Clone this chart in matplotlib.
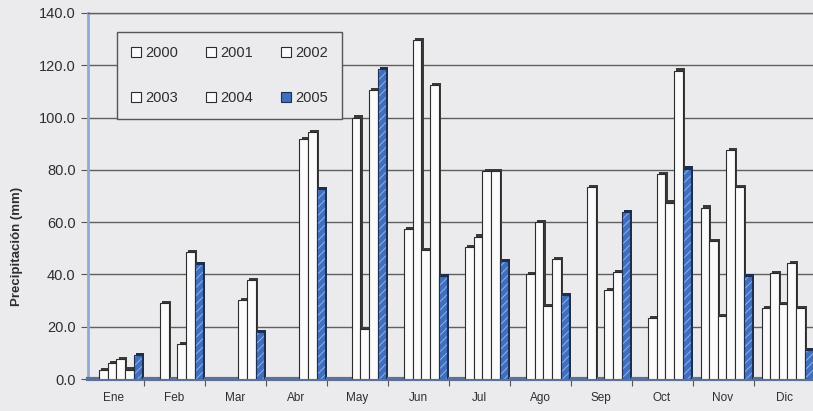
import numpy as np
import matplotlib
matplotlib.use('Agg')
import matplotlib.pyplot as plt
from matplotlib.patches import Patch
from matplotlib.transforms import ScaledTranslation

plt.rcParams['font.family'] = ['Liberation Sans', 'DejaVu Sans']
plt.rcParams['hatch.linewidth'] = 0.7

# monthly precipitation (mm), nan = no record
months = ['Ene', 'Feb', 'Mar', 'Abr', 'May', 'Jun',
          'Jul', 'Ago', 'Sep', 'Oct', 'Nov', 'Dic']
years = ['2000', '2001', '2002', '2003', '2004', '2005']
nan = np.nan
p2000 = [nan, nan, nan, nan, nan, nan, nan, nan, nan, nan, 65.6, 27.2]
p2001 = [3.5, 29.0, nan, nan, nan, 57.5, 50.5, 40.0, 73.5, 23.3, 52.8, 40.5]
p2002 = [6.0, nan, nan, nan, 100.0, 129.5, 54.5, 60.0, nan, 78.5, 24.0, 28.5]
p2003 = [7.8, 13.5, 30.3, 91.8, 19.0, 49.5, 79.5, 28.0, 34.0, 67.5, 87.5, 44.5]
p2004 = [3.6, 48.6, 37.8, 94.6, 110.5, 112.5, 79.5, 46.0, 41.0, 118.0, 73.5, 27.0]
p2005 = [9.2, 44.0, 18.0, 72.5, 118.5, 39.5, 45.0, 32.0, 64.0, 80.5, 39.5, 11.0]
series = [p2000, p2001, p2002, p2003, p2004, p2005]

bg = '#ebebed'
txt = '#2e2e2e'
grid_c = '#606060'
edge_c = '#2b2b2b'
blue = '#3f6fbe'
blue_hatch = '#8fb2e8'

fig = plt.figure(figsize=(8.13, 4.11), dpi=100, facecolor=bg)
ax = fig.add_axes([88 / 813, 32 / 411, 725 / 813, 366 / 411])
ax.set_facecolor(bg)

x = np.arange(len(months))
w = 0.141
start = -0.369
# small offset for the pseudo-3D side/top of each column
dx, dy = 0.036, 0.8

for k, vals in enumerate(series):
    v = np.array(vals, dtype=float)
    left = x + start + k * w
    z = 3 + 3 * k
    last = (k == len(series) - 1)
    ax.bar(left + dx, v, width=w, bottom=dy, align='edge',
           color='#1f2e4d' if last else '#3a3a3a', lw=0, zorder=z)
    if last:
        ax.bar(left, v, width=w, align='edge', color=blue,
               edgecolor=blue_hatch, hatch='////', lw=0, zorder=z + 1)
        ax.bar(left, v, width=w, align='edge', fill=False,
               edgecolor='#1d2f52', lw=0.8, zorder=z + 2)
    else:
        ax.bar(left, v, width=w, align='edge', color='#fbfbfb',
               edgecolor=edge_c, lw=0.8, zorder=z + 1)

ax.set_xlim(-0.41, 11.475)
ax.set_ylim(0, 140)

ax.set_yticks(np.arange(0, 141, 20))
ax.set_yticklabels([f'{t:.1f}' for t in np.arange(0, 141, 20)],
                   fontsize=10.5, color=txt)
for lbl in ax.get_yticklabels():
    lbl.set_transform(lbl.get_transform() +
                      ScaledTranslation(0, -3 / 100, fig.dpi_scale_trans))
ax.tick_params(axis='y', length=5, width=0.8, color='#555555', pad=4)

ax.set_xticks(x)
ax.set_xticklabels(months, fontsize=8.5, color=txt)
ax.set_xticks(x[:-1] + 0.5, minor=True)
ax.tick_params(axis='x', which='major', length=0, pad=9)
ax.tick_params(axis='x', which='minor', length=5, width=0.8,
               color='#555555')

ax.yaxis.grid(True, color=grid_c, lw=1.0)
ax.set_axisbelow(True)

ax.spines['right'].set_visible(False)
ax.spines['top'].set_color(grid_c)
ax.spines['top'].set_linewidth(1.0)
ax.spines['left'].set_color('#8eaad2')
ax.spines['left'].set_linewidth(2.0)
ax.spines['bottom'].set_color('#5d7098')
ax.spines['bottom'].set_linewidth(3.0)

ax.set_ylabel('Precipitación (mm)', fontsize=9.5, fontweight='bold',
              color=txt)
ax.yaxis.set_label_coords(-0.089, 0.363)

handles = []
for k, yr in enumerate(years):
    if k == len(years) - 1:
        handles.append(Patch(facecolor=blue, edgecolor='#1d2f52', lw=0.8,
                             label=yr))
    else:
        handles.append(Patch(facecolor='#fbfbfb', edgecolor=edge_c, lw=0.8,
                             label=yr))
# legend fills column-wise; reorder so rows read 2000-2002 / 2003-2005
order = [0, 3, 1, 4, 2, 5]
leg = fig.legend(handles=[handles[i] for i in order], ncol=3,
                 loc='upper left', bbox_to_anchor=(117 / 813, 1 - 32 / 411),
                 borderaxespad=0, fontsize=10.5, frameon=True, fancybox=False,
                 handlelength=0.7, handleheight=0.7, handletextpad=0.3,
                 columnspacing=1.9, labelspacing=2.15, borderpad=0.95)
leg.get_frame().set_facecolor(bg)
leg.get_frame().set_edgecolor('#555555')
leg.get_frame().set_linewidth(1.0)
leg.get_frame().set_alpha(1.0)
for t in leg.get_texts():
    t.set_color(txt)

fig.savefig('out.png', dpi=100, facecolor=bg)
